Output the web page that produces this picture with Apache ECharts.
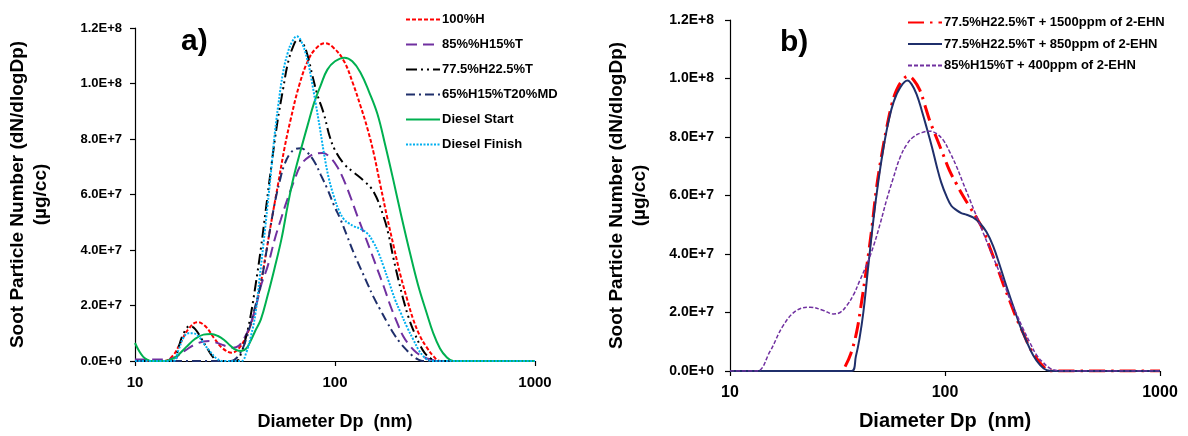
<!DOCTYPE html>
<html>
<head>
<meta charset="utf-8">
<script src="https://cdn.jsdelivr.net/npm/echarts@6/dist/echarts.min.js"></script>
<style>
html,body{margin:0;padding:0;background:#fff;}
#chart{width:1188px;height:436px;}
</style>
</head>
<body>
<div id="chart"></div>
<script>
// ---------- Data (values in units of 1E+7 particles) ----------
// Panel a)
const h100_d = [10, 14, 15.5, 17, 18.5, 20.5, 22.5, 25, 27.5, 30.5, 33, 36, 39, 42, 45, 48, 52, 56, 60, 66, 73, 80, 89, 98, 111, 123, 134, 145, 156, 169, 182, 197, 213, 230, 246, 266, 287, 310, 335, 1000];
const h100_v = [0, 0, 0.2, 0.7, 1.15, 1.4, 1.25, 0.8, 0.45, 0.3, 0.45, 0.9, 1.6, 2.6, 3.8, 5.0, 6.4, 7.7, 8.7, 9.9, 10.8, 11.25, 11.45, 11.3, 10.8, 10.0, 9.2, 8.4, 7.5, 6.3, 5.2, 4.1, 3.06, 2.2, 1.5, 0.9, 0.5, 0.18, 0, 0];

const h85_d = [10, 12, 14, 16, 18, 20, 22, 23.5, 25, 27, 29, 31, 33, 35, 37, 40, 43, 46, 50, 53.6, 57, 62.5, 68, 75.6, 81, 87, 94, 102.6, 111, 119.7, 129, 139.6, 151, 163, 176, 189, 204, 219, 237, 256, 276, 298, 330, 1000];
const h85_v = [0.05, 0.05, 0.05, 0.15, 0.4, 0.6, 0.7, 0.72, 0.68, 0.6, 0.52, 0.48, 0.55, 0.8, 1.15, 1.9, 2.8, 3.4, 4.4, 5.1, 5.7, 6.5, 7.1, 7.4, 7.48, 7.5, 7.35, 7.0, 6.5, 5.9, 5.25, 4.6, 3.95, 3.3, 2.65, 2.0, 1.4, 0.9, 0.55, 0.3, 0.15, 0.06, 0, 0];

const h775_d = [10, 15.5, 16.5, 17.5, 18.8, 20, 21.5, 23, 24.5, 26, 32, 34, 36, 38, 40, 42.5, 45, 48, 51.5, 55, 58, 61.5, 65, 69, 73, 77, 81.6, 88, 94, 100, 111, 124, 139, 156, 175, 186, 196, 208, 220, 235, 250, 265, 280, 300, 320, 1000];
const h775_v = [0, 0, 0.5, 1.0, 1.26, 1.15, 0.8, 0.45, 0.15, 0, 0, 0.3, 0.9, 1.7, 2.7, 4.0, 5.4, 7.0, 8.6, 9.8, 10.7, 11.3, 11.57, 11.45, 11.0, 10.3, 9.6, 8.9, 8.1, 7.6, 7.1, 6.8, 6.5, 6.1, 5.2, 4.5, 3.7, 2.9, 2.2, 1.5, 1.0, 0.6, 0.3, 0.1, 0, 0];

const h65_d = [10, 30, 33, 36, 39, 42.6, 46, 49.7, 53, 56, 60, 64, 67.4, 72, 78.6, 85, 91.6, 99, 106.6, 115, 124, 134, 145, 156, 168, 182, 196, 212, 229, 245, 260, 275, 1000];
const h65_v = [0, 0, 0.2, 0.8, 1.7, 2.8, 4.2, 5.6, 6.5, 7.1, 7.5, 7.65, 7.67, 7.55, 7.2, 6.7, 6.2, 5.6, 5.1, 4.5, 3.9, 3.35, 2.8, 2.3, 1.86, 1.4, 1.0, 0.65, 0.38, 0.18, 0.06, 0, 0];

const dStart_d = [10, 10.5, 11, 11.5, 12, 14, 16, 18, 20, 22, 24, 26, 28, 30, 32, 34, 36, 38, 40, 42.6, 46, 49.7, 54, 58, 62, 67.4, 73, 78.6, 85, 91.6, 100, 111.6, 122, 134, 148, 163, 178, 196, 215, 237, 260, 287, 310, 335, 360, 390, 1000];
const dStart_v = [0.65, 0.35, 0.15, 0.05, 0, 0, 0.15, 0.5, 0.8, 0.95, 0.97, 0.9, 0.75, 0.55, 0.4, 0.36, 0.45, 0.75, 1.1, 1.5, 2.35, 3.3, 4.4, 5.6, 6.6, 7.6, 8.5, 9.3, 9.95, 10.5, 10.8, 10.93, 10.8, 10.4, 9.7, 8.9, 7.8, 6.5, 5.2, 3.9, 2.75, 1.74, 1.0, 0.45, 0.15, 0, 0];

const dFinish_d = [10, 15.5, 16.5, 17.5, 18.5, 19.5, 21, 22.5, 24, 25.5, 27.5, 34, 36, 38, 40, 42, 44, 46, 48, 50, 52, 55, 58, 61, 64.4, 68, 72.8, 76, 80, 84, 88, 93, 99, 105, 111, 118, 124, 135, 145, 155, 165, 175, 185, 200, 213, 230, 246, 262, 276, 290, 310, 1000];
const dFinish_v = [0, 0, 0.4, 0.85, 1.0, 1.0, 0.85, 0.55, 0.3, 0.1, 0, 0, 0.3, 0.9, 1.7, 3.0, 4.3, 5.6, 6.9, 8.2, 9.2, 10.4, 11.1, 11.5, 11.7, 11.5, 10.85, 10.2, 9.3, 8.4, 7.5, 6.6, 5.9, 5.4, 5.1, 4.95, 4.86, 4.75, 4.6, 4.3, 3.9, 3.4, 2.9, 2.2, 1.74, 1.2, 0.78, 0.4, 0.18, 0.05, 0, 0];

// Panel b)
const e1500_d = [34.3, 36.5, 38.8, 41, 43.3, 45.7, 48.1, 50.8, 53.5, 56.5, 59.5, 63.5, 67.3, 71.5, 76.4, 80.5, 85, 91, 98, 105, 113, 121, 130.6, 140, 151, 162, 174, 187, 200, 215, 231, 248, 267, 287, 307, 1000];
const e1500_v = [0.15, 0.6, 1.33, 2.4, 3.6, 4.9, 6.3, 7.4, 8.3, 9.1, 9.6, 9.95, 10.08, 9.95, 9.6, 9.1, 8.55, 8.0, 7.4, 6.85, 6.4, 6.0, 5.6, 5.25, 4.8, 4.2, 3.6, 2.95, 2.4, 1.8, 1.3, 0.8, 0.43, 0.15, 0, 0];

const e850_d = [10, 36.8, 38.5, 40, 41.7, 44, 46.5, 49, 51.8, 54.5, 57.7, 62, 66.9, 70, 73.8, 78, 82.3, 87, 91.5, 96, 101.8, 107, 113, 119, 126, 135, 145, 156, 167.5, 180, 193, 208, 223, 240, 257, 277, 297, 320, 1000];
const e850_v = [0, 0, 0.5, 1.1, 2.0, 3.6, 5.2, 6.5, 7.65, 8.5, 9.2, 9.7, 9.93, 9.8, 9.46, 8.9, 8.3, 7.65, 7.0, 6.45, 5.96, 5.65, 5.5, 5.4, 5.34, 5.25, 5.06, 4.75, 4.27, 3.6, 2.9, 2.2, 1.56, 1.0, 0.54, 0.2, 0.03, 0, 0];

const e400_d = [10, 13.3, 15.3, 17.7, 20.4, 23.6, 27.2, 30.2, 32.5, 34.9, 37.5, 40.2, 43.3, 46.5, 50, 53.5, 57.5, 61.8, 66.5, 71.2, 78, 85, 91, 98, 105, 113, 121, 130.6, 140, 151, 162, 174, 187, 200, 215, 231, 248, 267, 287, 307, 330, 350, 1000];
const e400_v = [0, 0, 0.65, 1.56, 2.07, 2.18, 2.07, 1.95, 2.0, 2.23, 2.6, 3.1, 3.65, 4.27, 5.05, 5.85, 6.6, 7.3, 7.75, 8.0, 8.15, 8.2, 8.12, 7.9, 7.5, 7.0, 6.45, 5.85, 5.3, 4.7, 4.15, 3.6, 3.05, 2.46, 1.95, 1.44, 0.98, 0.54, 0.28, 0.1, 0.02, 0, 0];

const namesA = ['100%H', '85%%H15%T', '77.5%H22.5%T', '65%H15%T20%MD', 'Diesel Start', 'Diesel Finish'];
const namesB = ['77.5%H22.5%T + 1500ppm of 2-EHN', '77.5%H22.5%T + 850ppm of 2-EHN', '85%H15%T + 400ppm of 2-EHN'];
const xTicks = [10, 100, 1000];
const yTickValues = [0, 2, 4, 6, 8, 10, 12]; // x 1E+7

// ---------- Chart ----------
const FONT = 'Liberation Sans';
function pairs(d, v) { return d.map((x, i) => [x, v[i]]); }
function yFmt(v) {
  const val = Math.round(v * 1e7);
  if (val === 0) return '0.0E+0';
  const e = Math.floor(Math.log10(val) + 1e-9);
  const m = val / Math.pow(10, e);
  return m.toFixed(1) + 'E+' + e;
}
function mkX(grid, fs, nameFs, gap) {
  return {
    type: 'log', logBase: 10, gridIndex: grid, min: xTicks[0], max: xTicks[xTicks.length - 1],
    name: 'Diameter Dp  (nm)', nameLocation: 'middle', nameGap: gap,
    nameTextStyle: { fontFamily: FONT, fontWeight: 'bold', fontSize: nameFs, color: '#000' },
    axisLine: { show: true, onZero: false, lineStyle: { color: '#000', width: 1.2 } },
    axisTick: { show: true, inside: false, length: 5, lineStyle: { color: '#000', width: 1.2 } },
    minorTick: { show: false }, splitLine: { show: false },
    axisLabel: { fontFamily: FONT, fontWeight: 'bold', fontSize: fs, color: '#000', margin: 14,
      formatter: v => String(Math.round(v)) }
  };
}
function mkY(grid, fs, gap, margin) {
  return {
    type: 'value', gridIndex: grid, min: yTickValues[0], max: yTickValues[yTickValues.length - 1], interval: 2,
    name: 'Soot Particle Number (dN/dlogDp)\n(µg/cc)', nameLocation: 'middle', nameGap: gap,
    nameTextStyle: { fontFamily: FONT, fontWeight: 'bold', fontSize: 19, lineHeight: 23, color: '#000' },
    axisLine: { show: true, lineStyle: { color: '#000', width: 1.2 } },
    axisTick: { show: true, inside: false, length: 5, lineStyle: { color: '#000', width: 1.2 } },
    splitLine: { show: false },
    axisLabel: { fontFamily: FONT, fontWeight: 'bold', fontSize: fs, color: '#000', margin: margin, formatter: yFmt }
  };
}
function ser(name, d, v, gi, color, width, type) {
  return {
    name: name, type: 'line', xAxisIndex: gi, yAxisIndex: gi, data: pairs(d, v),
    smooth: 0.4, showSymbol: false, symbol: 'none',
    lineStyle: { color: color, width: width, type: type },
    itemStyle: { color: color }, emphasis: { disabled: true }, z: 3
  };
}
const legendCommon = {
  orient: 'vertical', itemWidth: 34, itemHeight: 14,
  itemStyle: { opacity: 0, borderWidth: 0 },
  textStyle: { fontFamily: FONT, fontWeight: 'bold', fontSize: 13, color: '#000', padding: [0, 0, 0, -3] }
};

const chart = echarts.init(document.getElementById('chart'), null, { renderer: 'canvas' });
chart.setOption({
  backgroundColor: '#fff',
  animation: false,
  title: [
    { text: 'a)', left: 176, top: 22, textStyle: { fontFamily: FONT, fontWeight: 'bold', fontSize: 30, color: '#000' } },
    { text: 'b)', left: 775, top: 23, textStyle: { fontFamily: FONT, fontWeight: 'bold', fontSize: 30, color: '#000' } }
  ],
  legend: [
    Object.assign({}, legendCommon, { data: namesA, left: 400, top: 8, itemGap: 12 }),
    Object.assign({}, legendCommon, { data: namesB, left: 902, top: 11, itemGap: 8.5 })
  ],
  grid: [
    { left: 135, top: 28, width: 400, height: 334 },
    { left: 730, top: 20, width: 430, height: 354 }
  ],
  xAxis: [ mkX(0, 15, 18, 52), mkX(1, 16, 20, 40) ],
  yAxis: [ mkY(0, 13, 83, 13), mkY(1, 14, 79, 16) ],
  series: [
    ser(namesA[0], h100_d, h100_v, 0, '#ff0000', 2, [4, 2]),
    ser(namesA[1], h85_d, h85_v, 0, '#7030a0', 2, [11, 6]),
    ser(namesA[2], h775_d, h775_v, 0, '#000000', 2, [11, 4, 2, 4, 2, 4]),
    ser(namesA[3], h65_d, h65_v, 0, '#1f2f6b', 2, [9, 4, 2, 4]),
    ser(namesA[4], dStart_d, dStart_v, 0, '#00b050', 2, 'solid'),
    ser(namesA[5], dFinish_d, dFinish_v, 0, '#00b0f0', 2, [2, 1.5]),
    ser(namesB[0], e1500_d, e1500_v, 1, '#ff0000', 3, [16, 6, 2.5, 6]),
    ser(namesB[1], e850_d, e850_v, 1, '#1f2f6b', 2, 'solid'),
    ser(namesB[2], e400_d, e400_v, 1, '#7030a0', 1.5, [4, 2])
  ]
});
</script>
</body>
</html>
